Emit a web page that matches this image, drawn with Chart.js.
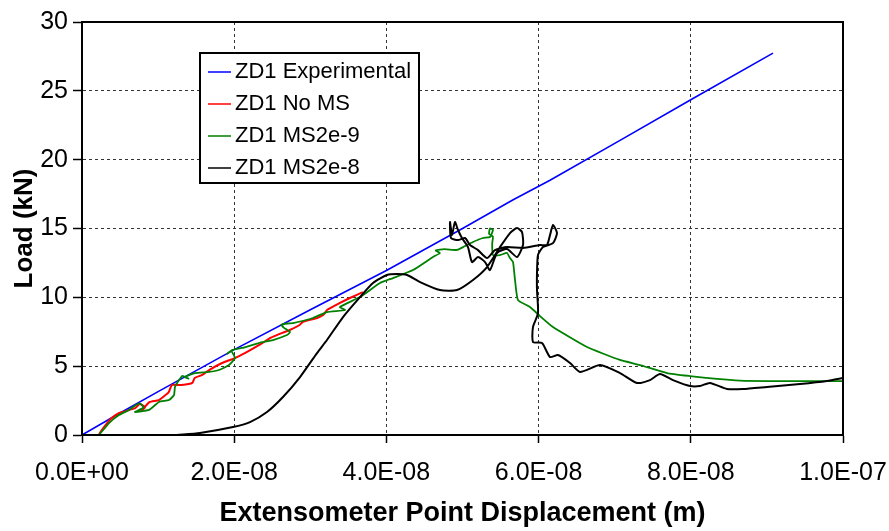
<!DOCTYPE html>
<html lang="en">
<head>
<meta charset="UTF-8">
<title>ZD1 load vs displacement</title>
<script src="https://cdn.jsdelivr.net/npm/chart.js"></script>
<style>
  html, body { margin: 0; padding: 0; background: #fff; }
  #wrap { width: 889px; height: 531px; }
</style>
</head>
<body>
<div id="wrap"><canvas id="chart" width="889" height="531"></canvas></div>
<script>
// displacement in nm (converted to m below), load in kN
const expX = [0, 5, 10, 20, 30, 40, 50, 56.6, 61.5, 70.7, 80, 90.8];
const expY = [0, 1.6, 3.15, 6.2, 9.1, 11.95, 15.0, 17.07, 18.5, 21.4, 24.35, 27.74];

const noMsX = [2.2, 2.6, 3.9, 4.9, 6.2, 7.0, 7.6, 8.3, 7.8, 8.9, 10.1, 11.4, 11.8, 13.1, 14.5, 14.8, 15.8,
  16.7, 18.4, 20.1, 21.4, 23.3, 24.7, 25.6, 27.3, 28.6, 29.0, 30.9, 31.7, 32.2, 33.9, 35.2, 36.9];
const noMsY = [0, 0.36, 1.23, 1.6, 1.82, 1.96, 2.25, 2.03, 1.75, 2.4, 2.54, 3.12, 3.63, 3.63, 3.78, 4.14, 4.36,
  4.72, 5.23, 5.59, 5.95, 6.54, 7.04, 7.26, 7.63, 7.99, 8.21, 8.5, 8.71, 9.08, 9.59, 9.95, 10.38];

const ms9X = [2.23, 3.55, 4.86, 6.18, 7.0, 7.6, 8.1, 6.96, 8.8, 10.12, 11.43, 12.09, 12.22, 12.75, 13.2, 14.0,
  13.53, 14.85, 16.69, 18.0, 19.32, 20.1, 19.6, 19.1, 19.71, 21.02, 23.26, 25.1, 26.94, 27.33, 26.5, 26.2,
  27.0, 27.73, 30.35, 32.19, 34.56, 33.9, 36.53, 39.16, 40.87, 43.5, 46.12, 47.04, 46.5, 47.6, 49.28, 50.07,
  51.38, 52.69, 53.61, 54.0, 53.6, 53.5, 54.0, 53.9, 54.0, 54.93, 55.85, 56.24, 56.64, 56.9, 57.29, 58.87,
  60.18, 61.89, 66.36, 70.7, 73.32, 76.87, 79.89, 83.44, 86.47, 90.01, 94.35, 100];
const ms9Y = [0, 0.87, 1.45, 1.82, 2.15, 2.3, 2.0, 1.67, 1.82, 2.4, 2.54, 2.9, 3.49, 3.99, 4.3, 4.1,
  4.21, 4.5, 4.58, 4.72, 5.08, 5.59, 6.1, 5.9, 6.17, 6.32, 6.68, 6.9, 7.26, 7.48, 7.8, 8.0,
  8.1, 8.13, 8.5, 8.93, 9.08, 9.3, 10.02, 11.04, 11.4, 11.98, 12.93, 13.22, 13.4, 13.5, 13.44, 13.65,
  14.02, 14.31, 14.38, 14.9, 15.0, 14.6, 14.4, 13.9, 13.07, 13.07, 13.22, 12.85, 12.56, 11.26, 9.8, 9.3,
  8.64, 7.84, 6.39, 5.45, 5.08, 4.5, 4.28, 4.07, 3.95, 3.92, 3.92, 3.92];

const ms8X = [12.5, 15.5, 19.84, 22.08, 24.31, 26.41, 28.65, 30.88, 32.19, 34.3, 36.53, 38.24, 40.08, 41.39,
  42.71, 44.42, 47.04, 49.28, 51.38, 53.22, 54.93, 56.24, 57.16, 57.82, 57.95, 57.16, 55.85, 54.53, 53.61,
  52.96, 52.04, 51.25, 50.72, 49.93, 49.41, 49.01, 48.62, 48.36, 48.49, 49.41, 50.33, 50.99, 52.04, 53.22,
  54.27, 55.85, 57.95, 60.18, 61.1, 61.5, 61.89, 62.42, 61.89, 60.58, 59.92, 59.79, 59.79, 59.92, 59.26,
  59.26, 60.45, 61.5, 62.55, 64.13, 65.44, 68.07, 70.7, 72.93, 74.64, 75.95, 77.66, 79.89, 81.21, 82.52,
  84.76, 86.86, 90.01, 94.35, 97.9, 100];
const ms8Y = [0, 0.15, 0.58, 0.94, 1.67, 2.76, 4.21, 5.95, 6.9, 8.57, 10.02, 11.04, 11.62, 11.69,
  11.62, 11.11, 10.53, 10.53, 11.26, 12.2, 13.65, 14.67, 15.03, 14.74, 13.8, 12.93, 13.51, 13.22, 11.98,
  12.56, 12.93, 12.56, 13.65, 14.31, 14.89, 15.47, 14.52, 15.47, 14.31, 14.16, 14.31, 13.8, 13.43, 12.85,
  13.43, 13.65, 13.58, 13.8, 13.8, 14.52, 15.25, 14.67, 13.94, 13.65, 13.07, 11.76, 10.53, 8.86, 7.84,
  6.75, 6.68, 5.66, 5.81, 5.23, 4.58, 5.08, 4.5, 3.78, 3.99, 4.43, 3.99, 3.56, 3.56, 3.78,
  3.34, 3.34, 3.49, 3.7, 3.92, 4.14];

const NM = 1e-9;
const FONT = "'Liberation Sans', Arial, sans-serif";

function pts(xs, ys) {
  return xs.map((x, i) => ({ x: x * NM, y: ys[i] }));
}

// 2e-8 -> "2.0E-08"
function sci(v) {
  if (Math.abs(v) < 1e-15) return '0.0E+00';
  const [m, e] = v.toExponential(1).split('e');
  const n = parseInt(e, 10);
  return m + 'E' + (n < 0 ? '-' : '+') + String(Math.abs(n)).padStart(2, '0');
}

// plot frame + boxed legend inside the plot
const frameLegend = {
  id: 'frameLegend',
  afterDraw(chart) {
    const { ctx, chartArea: a } = chart;
    ctx.save();
    ctx.strokeStyle = '#000';
    ctx.lineWidth = 2;
    ctx.strokeRect(a.left, a.top, a.right - a.left, a.bottom - a.top);

    const bx = a.left + 118, by = a.top + 31, bw = 219, bh = 130;
    ctx.fillStyle = '#fff';
    ctx.fillRect(bx, by, bw, bh);
    ctx.strokeRect(bx, by, bw, bh);
    ctx.font = '22px ' + FONT;
    ctx.textBaseline = 'middle';
    chart.data.datasets.forEach((ds, i) => {
      const y = by + 19 + i * 32;
      ctx.strokeStyle = ds.borderColor;
      ctx.lineWidth = 1.5;
      ctx.beginPath();
      ctx.moveTo(bx + 8, y);
      ctx.lineTo(bx + 31, y);
      ctx.stroke();
      ctx.fillStyle = '#000';
      ctx.fillText(ds.label, bx + 35, y);
    });
    ctx.restore();
  }
};

new Chart(document.getElementById('chart'), {
  type: 'line',
  data: {
    datasets: [
      { label: 'ZD1 Experimental', data: pts(expX, expY), borderColor: '#0000ff', borderWidth: 1.6, order: 4 },
      { label: 'ZD1 No MS', data: pts(noMsX, noMsY), borderColor: '#ff0000', borderWidth: 2, order: 3, tension: 0.15 },
      { label: 'ZD1 MS2e-9', data: pts(ms9X, ms9Y), borderColor: '#008000', borderWidth: 1.8, order: 2, tension: 0.15 },
      { label: 'ZD1 MS2e-8', data: pts(ms8X, ms8Y), borderColor: '#000000', borderWidth: 2, order: 1, tension: 0.2 }
    ]
  },
  options: {
    responsive: false,
    animation: false,
    parsing: false,
    elements: { point: { radius: 0 }, line: { fill: false } },
    layout: { padding: { left: 0, top: 22, right: 46, bottom: 0 } },
    plugins: { legend: { display: false }, tooltip: { enabled: false } },
    scales: {
      x: {
        type: 'linear',
        min: 0,
        max: 1e-7,
        ticks: {
          stepSize: 2e-8,
          callback: v => sci(v),
          font: { family: FONT, size: 25 },
          color: '#000',
          padding: 15,
          maxRotation: 0,
          autoSkip: false
        },
        grid: { color: '#333', lineWidth: 1, tickLength: 8, tickColor: '#000', tickWidth: 1.5, tickBorderDash: [] },
        border: { display: true, color: '#000', width: 2, dash: [3, 3] },
        title: {
          display: true,
          text: 'Extensometer Point Displacement (m)',
          font: { family: FONT, size: 27, weight: 'bold' },
          color: '#000',
          padding: { top: 0, bottom: 1 }
        },
        afterFit(s) { s.height = 96; s.paddingLeft = 0; s.paddingRight = 0; }
      },
      y: {
        min: 0,
        max: 30,
        ticks: {
          stepSize: 5,
          font: { family: FONT, size: 25 },
          color: '#000',
          padding: 5
        },
        grid: { color: '#333', lineWidth: 1, tickLength: 9, tickColor: '#000', tickWidth: 1.5, tickBorderDash: [] },
        border: { display: true, color: '#000', width: 2, dash: [3, 3] },
        title: {
          display: true,
          text: 'Load (kN)',
          font: { family: FONT, size: 26, weight: 'bold' },
          color: '#000',
          padding: { top: 9, bottom: 0 }
        },
        afterFit(s) { s.width = 82; s.paddingTop = 0; s.paddingBottom = 0; }
      }
    }
  },
  plugins: [frameLegend]
});
</script>
</body>
</html>
